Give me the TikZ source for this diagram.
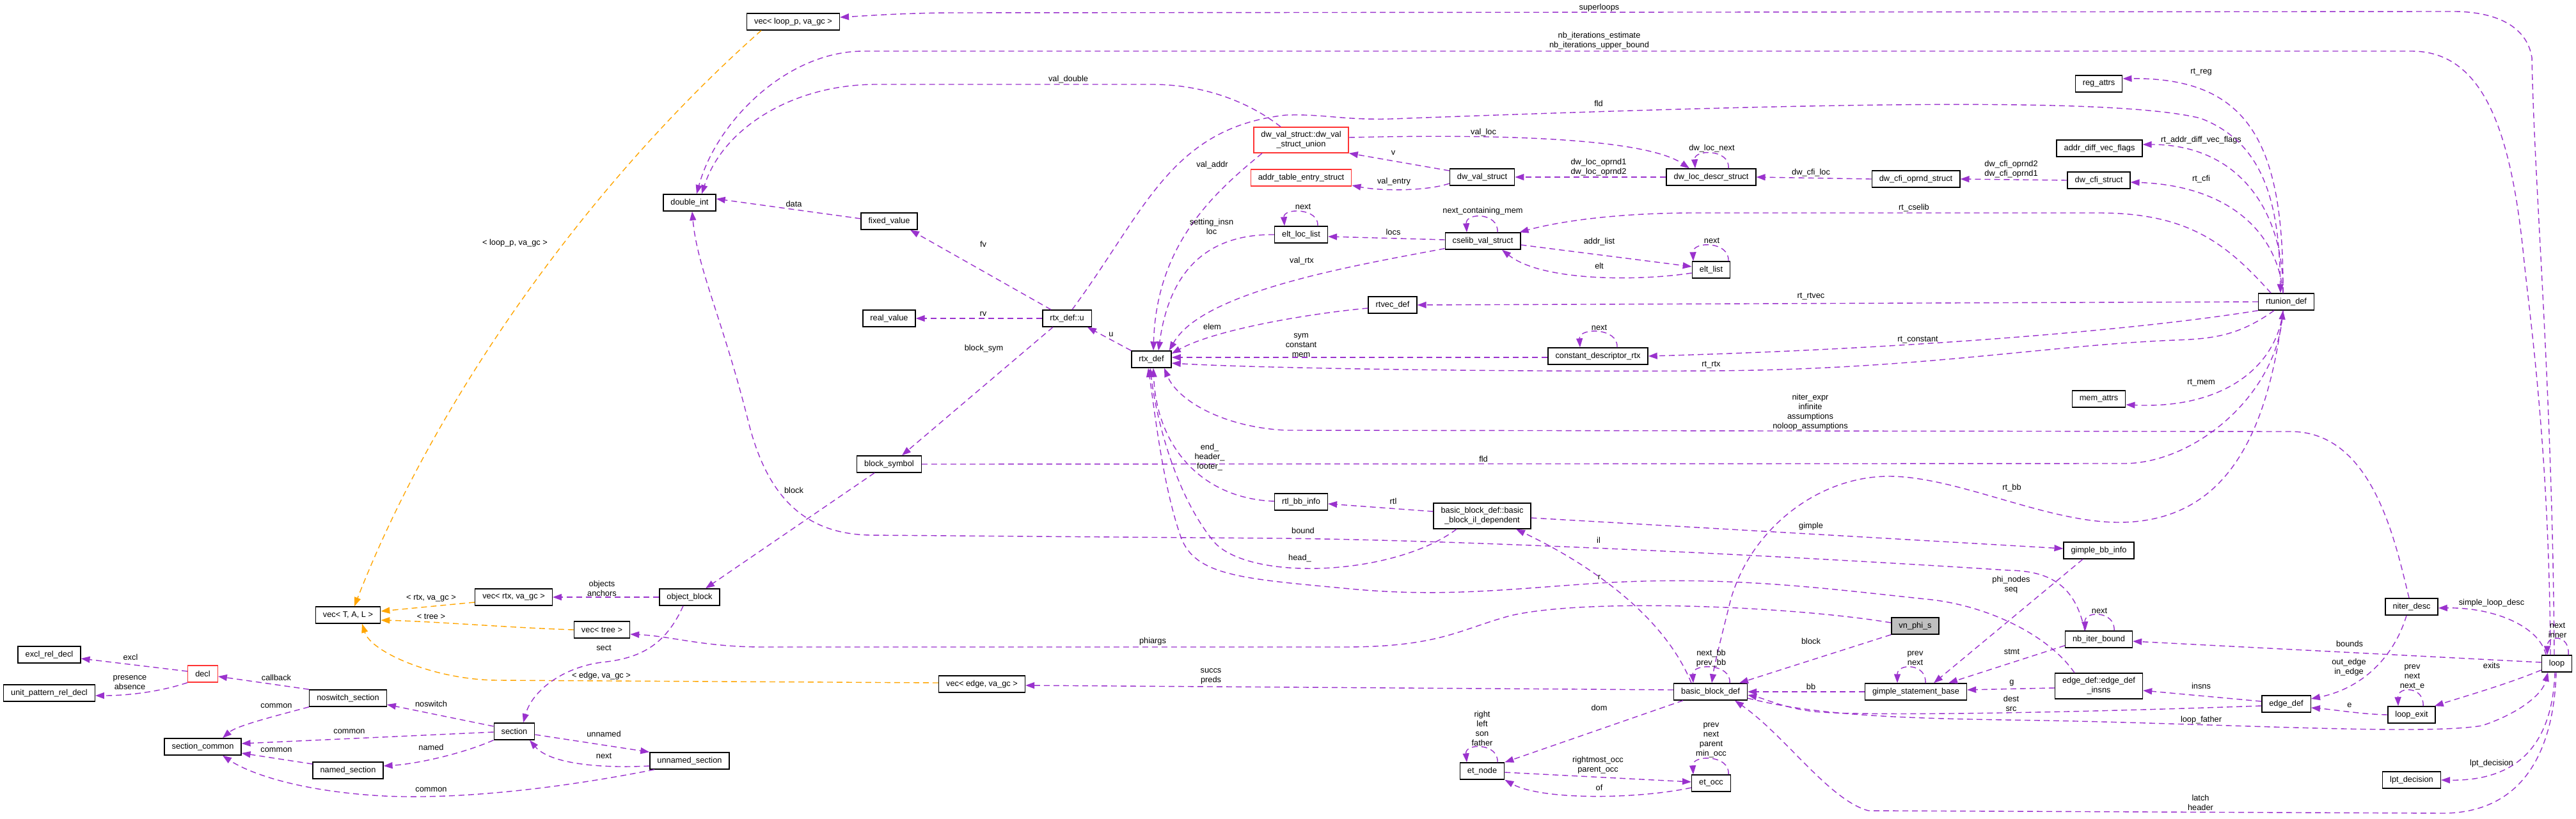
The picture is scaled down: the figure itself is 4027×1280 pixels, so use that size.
\documentclass[tikz,border=0pt]{standalone}
\usepackage{fontspec}
\setmainfont{Liberation Sans}
\usetikzlibrary{arrows.meta}
\definecolor{orchid}{HTML}{9A32CD}
\definecolor{tmplorange}{HTML}{FFA500}
\definecolor{nodered}{HTML}{FF3333}
\definecolor{gray75}{HTML}{BFBFBF}
\newcommand\collabfont{\fontsize{12.8}{15}\selectfont}
\tikzset{
  cls/.style={draw=black, line width=1.4pt, fill=white, font=\collabfont, inner xsep=11.5pt, inner ysep=0pt, minimum height=26pt, align=center},
  clstwo/.style={cls, minimum height=40pt},
  clsred/.style={cls, draw=nodered},
  clsgray/.style={cls, fill=gray75},
  member/.style={draw=orchid, line width=1.4pt, dash pattern=on 9pt off 6pt, -{Triangle[length=14pt,width=10pt]}},
  tmpl/.style={member, draw=tmplorange},
  lbl/.style={font=\collabfont, align=center, inner sep=0pt},
}
\begin{document}
\begin{tikzpicture}[x=1pt,y=-1pt]
\useasboundingbox (0,0) rectangle (4027,1280);
\node[cls] (vloop) at (1240,34) {vec< loop\_p, va\_gc >};
\node[cls] (dint) at (1078,317) {double\_int};
\node[cls] (fixedv) at (1390,346) {fixed\_value};
\node[clsred, minimum height=40pt] (dwunion) at (2034,219) {dw\_val\_struct::dw\_val\\\_struct\_union};
\node[clsred] (addrtab) at (2034,278) {addr\_table\_entry\_struct};
\node[cls] (eltloc) at (2034,367) {elt\_loc\_list};
\node[cls] (dwval) at (2317,277) {dw\_val\_struct};
\node[cls] (dwloc) at (2675,277) {dw\_loc\_descr\_struct};
\node[cls] (cfiop) at (2995,280) {dw\_cfi\_oprnd\_struct};
\node[cls] (cselib) at (2318,377) {cselib\_val\_struct};
\node[cls] (eltlist) at (2675,422) {elt\_list};
\node[cls] (regattr) at (3281,131) {reg\_attrs};
\node[cls] (adiff) at (3282,232) {addr\_diff\_vec\_flags};
\node[cls] (cfi) at (3281,282) {dw\_cfi\_struct};
\node[cls] (rtunion) at (3574,472) {rtunion\_def};
\node[cls] (memattr) at (3281,624) {mem\_attrs};
\node[cls] (gbbinfo) at (3281,861) {gimple\_bb\_info};
\node[cls] (realv) at (1390,498) {real\_value};
\node[cls] (rtxu) at (1668,498) {rtx\_def::u};
\node[cls] (rtx) at (1800,562) {rtx\_def};
\node[cls] (blocksym) at (1390,726) {block\_symbol};
\node[cls] (rtlbb) at (2034,785) {rtl\_bb\_info};
\node[cls] (rtvec) at (2177,477) {rtvec\_def};
\node[cls] (constdesc) at (2498,557) {constant\_descriptor\_rtx};
\node[clstwo] (bbil) at (2317,807) {basic\_block\_def::basic\\\_block\_il\_dependent};
\node[cls] (vecT) at (544,962) {vec< T, A, L >};
\node[cls] (vrtx) at (803,934) {vec< rtx, va\_gc >};
\node[cls] (vtree) at (941,985) {vec< tree >};
\node[cls] (excl) at (77,1024) {excl\_rel\_decl};
\node[cls] (unitpat) at (77,1084) {unit\_pattern\_rel\_decl};
\node[clsred] (decl) at (317,1054) {decl};
\node[cls] (noswitch) at (544,1092) {noswitch\_section};
\node[cls] (seccommon) at (317,1168) {section\_common};
\node[cls] (section) at (804,1144) {section};
\node[cls] (named) at (544,1205) {named\_section};
\node[cls] (unnamed) at (1078,1190) {unnamed\_section};
\node[cls] (objblock) at (1078,934) {object\_block};
\node[cls] (vedge) at (1535,1070) {vec< edge, va\_gc >};
\node[clsgray] (vnphi) at (2994,979) {vn\_phi\_s};
\node[cls] (bbdef) at (2674,1082) {basic\_block\_def};
\node[cls] (gstmt) at (2995,1082) {gimple\_statement\_base};
\node[cls] (etnode) at (2317,1206) {et\_node};
\node[cls] (etocc) at (2675,1225) {et\_occ};
\node[cls] (nbiter) at (3281,1000) {nb\_iter\_bound};
\node[clstwo] (einsns) at (3281,1073) {edge\_def::edge\_def\\\_insns};
\node[cls] (edgedef) at (3574,1101) {edge\_def};
\node[cls] (loopexit) at (3770,1118) {loop\_exit};
\node[cls] (niter) at (3770,949) {niter\_desc};
\node[cls] (loop) at (3997,1038) {loop};
\node[cls] (lpt) at (3770,1220) {lpt\_decision};
\draw[tmpl] ([xshift=-50pt]vloop.south) .. controls (920,287) and (680,625) .. ([xshift=10pt]vecT.north) node[lbl] (lloopp) at (805,380) {< loop\_p, va\_gc >};
\draw[tmpl] ([yshift=-8pt]vrtx.west) -- ([yshift=6pt]vecT.east) node[lbl] (lrtxgc) at (674,936) {< rtx, va\_gc >};
\draw[tmpl] (vtree.west) .. controls (800,982) and (680,972) .. ([yshift=-8pt]vecT.east) node[lbl] (ltree) at (674,964) {< tree >};
\draw[tmpl] ([yshift=2pt]vedge.west) -- (780,1064) .. controls (680,1064) and (580,1020) .. ([xshift=22pt]vecT.south) node[lbl] (ledgegc) at (940,1057) {< edge, va\_gc >};
\draw[member] ([xshift=-4pt]loop.north) .. controls (3990,600) and (3962,300) .. (3958,90) .. controls (3950,40) and (3900,17) .. (3830,18) -- (1480,20) .. controls (1400,21) and (1350,25) .. ([yshift=7pt]vloop.east) node[lbl] (lsuperloops) at (2500,12) {superloops};
\draw[member] ([xshift=-10pt]loop.north) .. controls (3985,700) and (3955,500) .. (3945,400) .. controls (3925,200) and (3880,80) .. (3770,80) -- (1350,80) .. controls (1230,80) and (1120,190) .. ([xshift=11pt]dint.north) node[lbl] (lnbiter) at (2500,64) {nb\_iterations\_estimate\\nb\_iterations\_upper\_bound};
\draw[member] ([xshift=-32pt]dwunion.north) .. controls (1960,165) and (1890,132) .. (1800,132) -- (1370,132) .. controls (1240,132) and (1130,200) .. ([xshift=19pt]dint.north) node[lbl] (lvaldouble) at (1670,124) {val\_double};
\draw[member] ([yshift=4pt]fixedv.west) -- ([yshift=6pt]dint.east) node[lbl] (ldata) at (1241,319) {data};
\draw[member] ([xshift=-25pt]rtxu.north) -- ([xshift=33pt]fixedv.south) node[lbl] (lfv) at (1537,382) {fv};
\draw[member] (rtxu.west) -- (realv.east) node[lbl] (lrv) at (1537,491) {rv};
\draw[member] ([xshift=-22pt]rtxu.south) -- ([xshift=20pt]blocksym.north) node[lbl] (lblocksym) at (1538,545) {block\_sym};
\draw[member] (rtx.north west) -- ([xshift=-7pt]rtxu.south east) node[lbl] (lu) at (1737,523) {u};
\draw[member] ([xshift=-61pt]dwunion.south) .. controls (1900,300) and (1808,380) .. ([xshift=3pt]rtx.north) node[lbl] (lvaladdr) at (1895,258) {val\_addr};
\draw[member] (eltloc.west) .. controls (1900,366) and (1830,410) .. ([xshift=11pt]rtx.north) node[lbl] (lsetting) at (1894,354) {setting\_insn\\loc};
\draw[member] ([yshift=2pt]cselib.south west) .. controls (2120,415) and (1880,455) .. ([xshift=-4pt]rtx.north east) node[lbl] (lvalrtx) at (2035,408) {val\_rtx};
\draw[member] ([yshift=-5pt]rtvec.west) .. controls (2050,490) and (1900,515) .. ([yshift=9pt]rtx.east) node[lbl] (lelem) at (1895,511) {elem};
\draw[member] ([yshift=-2pt]constdesc.west) -- ([yshift=3pt]rtx.east) node[lbl] (lsym) at (2034,540) {sym\\constant\\mem};
\draw[member] ([xshift=-19pt]rtunion.south) .. controls (3500,525) and (3460,530) .. (3400,532) .. controls (3200,540) and (3000,578) .. (2676,580) .. controls (2300,582) and (1950,575) .. ([yshift=-6pt]rtx.east) node[lbl] (lrtrtx) at (2675,571) {rt\_rtx};
\draw[member] (rtunion.south west) .. controls (3350,515) and (3000,545) .. (constdesc.east) node[lbl] (lrtconst) at (2998,532) {rt\_constant};
\draw[member] (constdesc.north) ++(30pt,0) .. controls (2530,512) and (2468,512) .. ([xshift=-28pt]constdesc.north) node[lbl] (lconstnext) at (2500,512) {next};
\draw[member] (rtunion.west) -- (rtvec.east) node[lbl] (lrtrtvec) at (2831,464) {rt\_rtvec};
\draw[member] ([xshift=-24pt]rtunion.north) .. controls (3480,380) and (3420,333) .. (3280,333) -- (2650,333) .. controls (2520,333) and (2430,348) .. ([xshift=-2pt]cselib.north east) node[lbl] (lrtcselib) at (2992,325) {rt\_cselib};
\draw[member] ([xshift=-5pt]rtunion.north) .. controls (3570,230) and (3520,121) .. ([yshift=8pt]regattr.east) node[lbl] (lrtreg) at (3441,113) {rt\_reg};
\draw[member] ([xshift=-5pt]rtunion.north) .. controls (3570,330) and (3500,226) .. ([yshift=6pt]adiff.east) node[lbl] (lrtadv) at (3441,219) {rt\_addr\_diff\_vec\_flags};
\draw[member] ([xshift=-5pt]rtunion.north) .. controls (3560,360) and (3480,290) .. ([yshift=-3pt]cfi.east) node[lbl] (lrtcfi) at (3441,280) {rt\_cfi};
\draw[member] ([xshift=-5pt]rtunion.south) .. controls (3560,570) and (3480,640) .. ([yshift=-9pt]memattr.east) node[lbl] (lrtmem) at (3441,599) {rt\_mem};
\draw[member] ([xshift=8pt]rtxu.north) .. controls (1790,330) and (1830,200) .. (2010,180) .. controls (2080,178) and (2100,190) .. (2200,185) .. controls (2800,163) and (3300,150) .. (3440,185) .. controls (3545,225) and (3563,330) .. ([xshift=-9pt]rtunion.north) node[lbl] (lfld) at (2499,162) {fld};
\draw[member] (blocksym.east) -- (3320,725) .. controls (3430,725) and (3555,620) .. ([xshift=-5pt]rtunion.south) node[lbl] (lfldblock) at (2319,718) {fld};
\draw[member] ([xshift=-5pt]rtunion.south) .. controls (3545,680) and (3480,815) .. (3315,817) .. controls (3200,818) and (3060,745) .. (2953,745) .. controls (2840,745) and (2735,830) .. (2705,940) .. controls (2690,1000) and (2680,1040) .. ([xshift=2pt]bbdef.north) node[lbl] (lrtbb) at (3145,763) {rt\_bb};
\draw[member] ([xshift=-4pt]niter.north) .. controls (3745,850) and (3710,675) .. (3581,675) -- (2010,673) .. controls (1910,668) and (1840,625) .. ([xshift=20pt]rtx.south) node[lbl] (lniter) at (2830,645) {niter\_expr\\infinite\\assumptions\\noloop\_assumptions};
\draw[member] ([yshift=1pt]rtlbb.west) .. controls (1880,780) and (1808,700) .. ([xshift=3pt]rtx.south) node[lbl] (lendhdr) at (1891,715) {end\_\\header\_\\footer\_};
\draw[member] ([xshift=-40pt]bbil.south) .. controls (2180,900) and (1960,910) .. (1900,850) .. controls (1840,780) and (1808,660) .. ([xshift=-2pt]rtx.south) node[lbl] (lhead) at (2032,873) {head\_};
\draw[member] ([xshift=-38pt]einsns.north) .. controls (3200,990) and (3100,945) .. (3010,937) .. controls (2850,920) and (2700,900) .. (2500,912) .. controls (2350,922) and (2250,935) .. (2100,920) .. controls (1940,905) and (1868,900) .. (1846,840) .. controls (1818,760) and (1806,650) .. ([xshift=-5pt]rtx.south) node[lbl] (lr) at (2500,903) {r};
\draw[member] ([xshift=-30pt]bbdef.north) .. controls (2600,960) and (2480,880) .. ([xshift=53pt]bbil.south) node[lbl] (lil) at (2499,845) {il};
\draw[member] ([yshift=7pt]bbil.west) -- ([yshift=-3pt]rtlbb.east) node[lbl] (lrtl) at (2178,784) {rtl};
\draw[member] ([yshift=-3pt]bbil.east) -- ([yshift=3pt]gbbinfo.west) node[lbl] (lgimple) at (2831,823) {gimple};
\draw[member] ([xshift=-22pt]nbiter.north) .. controls (3245,920) and (3210,893) .. (3140,892) .. controls (2800,870) and (2300,845) .. (2000,842) -- (1360,837) .. controls (1260,835) and (1200,780) .. (1170,660) .. controls (1130,500) and (1090,420) .. ([xshift=4pt]dint.south) node[lbl] (lbound) at (2037,830) {bound};
\draw[member] ([yshift=5pt]vnphi.west) .. controls (2800,948) and (2480,935) .. (2361,963) .. controls (2280,985) and (2250,1012) .. (2100,1012) -- (1193,1012) .. controls (1100,1012) and (1050,995) .. ([yshift=-7pt]vtree.east) node[lbl] (lphiargs) at (1802,1003) {phiargs};
\draw[member] (vnphi.south west) -- ([xshift=45pt]bbdef.north) node[lbl] (lblockbb) at (2831,1003) {block};
\draw[member] ([xshift=30pt]bbdef.north) .. controls (2707,1037) and (2645,1037) .. ([xshift=-27pt]bbdef.north) node[lbl] (lnextbb) at (2675,1030) {next\_bb\\prev\_bb};
\draw[member] (gstmt.west) -- (bbdef.east) node[lbl] (lbb) at (2831,1074) {bb};
\draw[member] ([xshift=15pt]gstmt.north) .. controls (3012,1037) and (2966,1037) .. ([xshift=-29pt]gstmt.north) node[lbl] (lgprev) at (2994,1030) {prev\\next};
\draw[member] ([yshift=-3pt]edgedef.west) .. controls (3200,1116) and (2900,1120) .. (2837,1113) .. controls (2790,1108) and (2760,1093) .. ([yshift=-5pt]bbdef.east) node[lbl] (ldest) at (3144,1100) {dest\\src};
\draw[member] ([yshift=-10pt]bbdef.east) .. controls (2850,1122) and (3000,1124) .. (3200,1127) .. controls (3500,1133) and (3790,1150) .. (3880,1135) .. controls (3940,1115) and (3975,1085) .. ([xshift=-14pt]loop.south) node[lbl] (lloopfather) at (3441,1126) {loop\_father};
\draw[member] ([xshift=-1pt]loop.south) .. controls (3993,1150) and (3960,1270) .. (3821,1272) -- (2921,1268) .. controls (2860,1252) and (2790,1150) .. ([xshift=38pt]bbdef.south) node[lbl] (llatch) at (3440,1255) {latch\\header};
\draw[member] ([xshift=-43pt]bbdef.south) -- (etnode.north east) node[lbl] (ldom) at (2500,1107) {dom};
\draw[member] ([xshift=24pt]etnode.north) .. controls (2343,1162) and (2290,1162) .. ([xshift=-24pt]etnode.north) node[lbl] (letnode) at (2317,1139) {right\\left\\son\\father};
\draw[member] ([yshift=-2pt]etnode.east) -- ([yshift=2pt]etocc.west) node[lbl] (lrightmost) at (2498,1197) {rightmost\_occ\\parent\_occ};
\draw[member] ([yshift=-7pt]etocc.west) .. controls (2560,1250) and (2410,1252) .. (etnode.south east) node[lbl] (lof) at (2500,1232) {of};
\draw[member] ([xshift=27pt]etocc.north) .. controls (2705,1180) and (2645,1180) .. ([xshift=-28pt]etocc.north) node[lbl] (letocc) at (2675,1158) {prev\\next\\parent\\min\_occ};
\draw[member] ([yshift=-10pt]loop.west) .. controls (3920,1070) and (3850,1090) .. ([xshift=-2pt]loopexit.north east) node[lbl] (lexits) at (3895,1041) {exits};
\draw[member] ([xshift=18pt]loopexit.north) .. controls (3790,1073) and (3748,1073) .. ([xshift=-21pt]loopexit.north) node[lbl] (lexitnext) at (3771,1059) {prev\\next\\next\_e};
\draw[member] (loopexit.west) .. controls (3690,1117) and (3650,1110) .. ([yshift=-6pt]edgedef.east) node[lbl] (le) at (3673,1103) {e};
\draw[member] ([yshift=4pt]edgedef.west) -- ([yshift=-7pt]einsns.east) node[lbl] (linsns) at (3441,1073) {insns};
\draw[member] ([xshift=-8pt]niter.south) .. controls (3745,1020) and (3700,1075) .. ([yshift=8pt]edgedef.east) node[lbl] (loutedge) at (3672,1044) {out\_edge\\in\_edge};
\draw[member] ([xshift=-17pt]loop.north) .. controls (3970,980) and (3900,950) .. ([yshift=-2pt]niter.east) node[lbl] (lsimple) at (3895,943) {simple\_loop\_desc};
\draw[member] ([xshift=18pt]loop.north) .. controls (4018,992) and (3982,992) .. ([xshift=-15pt]loop.north) node[lbl] (lloopnext) at (3998,986) {next\\inner};
\draw[member] ([yshift=2pt]loop.west) -- ([yshift=-3pt]nbiter.east) node[lbl] (lbounds) at (3673,1007) {bounds};
\draw[member] ([xshift=-3pt]loop.south) .. controls (3990,1160) and (3940,1222) .. (lpt.east) node[lbl] (llpt) at (3895,1194) {lpt\_decision};
\draw[member] ([xshift=24pt]nbiter.north) .. controls (3307,955) and (3258,955) .. ([xshift=-21pt]nbiter.north) node[lbl] (lnbnext) at (3282,955) {next};
\draw[member] ([yshift=4pt]nbiter.south west) -- ([xshift=51pt]gstmt.north) node[lbl] (lstmt) at (3145,1019) {stmt};
\draw[member] ([xshift=-25pt]gbbinfo.south) -- ([xshift=28pt]gstmt.north) node[lbl] (lphinodes) at (3144,915) {phi\_nodes\\seq};
\draw[member] ([yshift=-3pt]einsns.west) -- ([yshift=3pt]gstmt.east) node[lbl] (lg) at (3145,1068) {g};
\draw[member] ([yshift=3pt]bbdef.west) -- ([yshift=-2pt]vedge.east) node[lbl] (lsuccs) at (1893,1058) {succs\\preds};
\draw[member] ([xshift=-10pt]objblock.south) .. controls (1040,1010) and (1000,1030) .. (940,1036) .. controls (880,1044) and (832,1080) .. ([xshift=14pt]section.north) node[lbl] (lsect) at (944,1013) {sect};
\draw[member] (objblock.west) -- (vrtx.east) node[lbl] (lobjects) at (941,920) {objects\\anchors};
\draw[member] ([xshift=-23pt]blocksym.south) -- ([xshift=25pt]objblock.north) node[lbl] (lblock) at (1241,767) {block};
\draw[member] ([yshift=4pt]decl.west) -- ([yshift=-6pt]excl.east) node[lbl] (lexcl) at (204,1028) {excl};
\draw[member] (decl.south west) .. controls (250,1082) and (200,1088) .. ([yshift=-4pt]unitpat.east) node[lbl] (lpresence) at (203,1068) {presence\\absence};
\draw[member] (noswitch.north west) -- ([yshift=-4pt]decl.east) node[lbl] (lcallback) at (432,1060) {callback};
\draw[member] (noswitch.south west) .. controls (430,1120) and (370,1135) .. ([xshift=31pt]seccommon.north) node[lbl] (lcommonns) at (432,1104) {common};
\draw[member] ([yshift=8pt]section.west) -- ([yshift=-10pt]noswitch.east) node[lbl] (lnoswitch) at (674,1101) {noswitch};
\draw[member] ([yshift=-1pt]section.west) -- ([yshift=5pt]seccommon.east) node[lbl] (lcommonsec) at (546,1144) {common};
\draw[member] (section.south west) .. controls (720,1180) and (650,1195) .. ([yshift=7pt]named.east) node[lbl] (lnamed) at (674,1169) {named};
\draw[member] ([yshift=10pt]named.west) -- ([yshift=-10pt]seccommon.east) node[lbl] (lcommonnamed) at (432,1173) {common};
\draw[member] ([yshift=-5pt]section.east) -- (unnamed.north west) node[lbl] (lunnamed) at (944,1148) {unnamed};
\draw[member] ([yshift=-8pt]unnamed.west) .. controls (940,1202) and (860,1195) .. ([xshift=24pt]section.south) node[lbl] (lnext) at (944,1182) {next};
\draw[member] ([xshift=-55pt]unnamed.south) .. controls (850,1238) and (700,1250) .. (600,1245) .. controls (470,1238) and (390,1210) .. ([xshift=31pt]seccommon.south) node[lbl] (lcommonun) at (674,1235) {common};
\draw[member] ([yshift=10pt]dwval.west) -- (dwunion.south east) node[lbl] (lv) at (2178,239) {v};
\draw[member] ([yshift=-10pt]dwval.west) .. controls (2230,299) and (2160,299) .. ([yshift=-12pt]addrtab.east) node[lbl] (lvalentry) at (2179,284) {val\_entry};
\draw[member] ([yshift=4pt]dwunion.east) .. controls (2400,208) and (2580,222) .. ([xshift=-34pt]dwloc.north) node[lbl] (lvalloc) at (2319,207) {val\_loc};
\draw[member] ([xshift=27pt]dwloc.north) .. controls (2705,233) and (2648,233) .. ([xshift=-25pt]dwloc.north) node[lbl] (ldwlocnext) at (2676,232) {dw\_loc\_next};
\draw[member] (dwloc.west) -- (dwval.east) node[lbl] (ldwlocop) at (2499,262) {dw\_loc\_oprnd1\\dw\_loc\_oprnd2};
\draw[member] (cfiop.west) -- (dwloc.east) node[lbl] (ldwcfiloc) at (2831,270) {dw\_cfi\_loc};
\draw[member] (cfi.west) -- (cfiop.east) node[lbl] (ldwcfiop) at (3144,265) {dw\_cfi\_oprnd2\\dw\_cfi\_oprnd1};
\draw[member] ([xshift=26pt]eltloc.north) .. controls (2062,325) and (2006,325) .. ([xshift=-26pt]eltloc.north) node[lbl] (leltlocnext) at (2037,323) {next};
\draw[member] ([yshift=2pt]cselib.west) -- ([yshift=-3pt]eltloc.east) node[lbl] (llocs) at (2178,363) {locs};
\draw[member] ([xshift=23pt]cselib.north) .. controls (2343,332) and (2291,332) .. ([xshift=-25pt]cselib.north) node[lbl] (lnextcm) at (2318,330) {next\_containing\_mem};
\draw[member] ([yshift=-6pt]cselib.east) -- ([yshift=5pt]eltlist.west) node[lbl] (laddrlist) at (2500,378) {addr\_list};
\draw[member] ([yshift=-5pt]eltlist.west) .. controls (2560,440) and (2410,440) .. ([xshift=30pt]cselib.south) node[lbl] (lelt) at (2500,416) {elt};
\draw[member] ([xshift=27pt]eltlist.north) .. controls (2704,377) and (2646,377) .. ([xshift=-28pt]eltlist.north) node[lbl] (leltlistnext) at (2676,376) {next};
\end{tikzpicture}
\end{document}
